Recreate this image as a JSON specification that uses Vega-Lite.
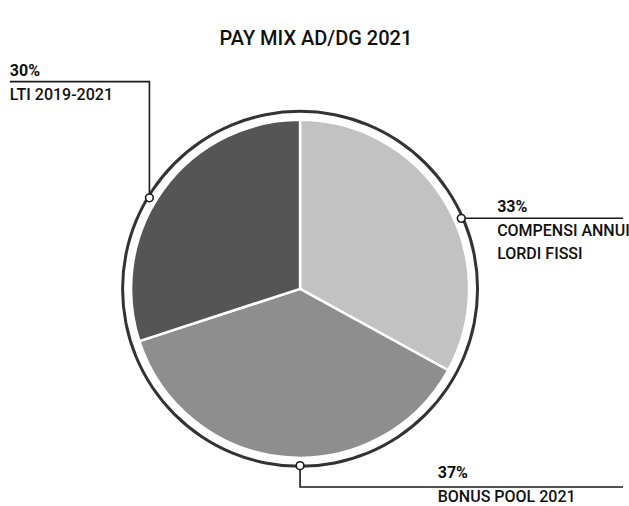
{
  "$schema": "https://vega.github.io/schema/vega-lite/v6.json",
  "autosize": {"type": "fit", "contains": "padding"},
  "width": 629,
  "height": 506,
  "padding": 0,
  "background": "white",
  "config": {"view": {"stroke": null}},
  "datasets": {
    "slices": [
      {"label": "COMPENSI ANNUI LORDI FISSI", "value": 33, "ord": 1},
      {"label": "BONUS POOL 2021", "value": 37, "ord": 2},
      {"label": "LTI 2019-2021", "value": 30, "ord": 3}
    ],
    "ring": [{"name": "ring"}],
    "dots": [
      {"x": -85.7, "y": 51.5},
      {"x": 91.7, "y": 39.9},
      {"x": 0, "y": -100}
    ],
    "leaders": [
      {"g": "LTI", "o": 1, "x": -85.7, "y": 51.5},
      {"g": "LTI", "o": 2, "x": -85.7, "y": 117.2},
      {"g": "LTI", "o": 3, "x": -165.1, "y": 117.2},
      {"g": "COMP", "o": 1, "x": 91.7, "y": 39.9},
      {"g": "COMP", "o": 2, "x": 183.7, "y": 39.9},
      {"g": "BONUS", "o": 1, "x": 0, "y": -100},
      {"g": "BONUS", "o": 2, "x": 0, "y": -112.1},
      {"g": "BONUS", "o": 3, "x": 183.7, "y": -112.1}
    ],
    "pcts": [
      {"t": "30%", "x": -165.1, "y": 120.6},
      {"t": "33%", "x": 112.1, "y": 43.4},
      {"t": "37%", "x": 78.3, "y": -107.0}
    ],
    "names": [
      {"t": "LTI 2019-2021", "x": -165.1, "y": 107.0},
      {"t": "COMPENSI ANNUI", "x": 112.1, "y": 29.9},
      {"t": "LORDI FISSI", "x": 112.1, "y": 16.9},
      {"t": "BONUS POOL 2021", "x": 78.3, "y": -120.6}
    ],
    "title": [{"t": "PAY MIX AD/DG 2021", "x": 9.0, "y": 138.0}]
  },
  "layer": [
    {
      "data": {"name": "ring"},
      "mark": {"type": "arc", "theta": 0, "theta2": 6.2832, "innerRadius": 176, "outerRadius": 179, "fill": "#333333"},
      "encoding": {
        "x": {"datum": 0, "type": "quantitative", "scale": {"domain": [-170.7, 183.7], "nice": false, "zero": false}, "axis": null},
        "y": {"datum": 0, "type": "quantitative", "scale": {"domain": [-121.7, 163.4], "nice": false, "zero": false}, "axis": null}
      }
    },
    {
      "data": {"name": "slices"},
      "mark": {"type": "arc", "outerRadius": 169, "stroke": "white", "strokeWidth": 2.5},
      "encoding": {
        "x": {"datum": 0, "type": "quantitative"},
        "y": {"datum": 0, "type": "quantitative"},
        "theta": {"field": "value", "type": "quantitative", "stack": true},
        "order": {"field": "ord", "type": "quantitative"},
        "color": {
          "field": "label",
          "type": "nominal",
          "scale": {"domain": ["COMPENSI ANNUI LORDI FISSI", "BONUS POOL 2021", "LTI 2019-2021"], "range": ["#c2c2c2", "#8e8e8e", "#555555"]},
          "legend": null
        }
      }
    },
    {
      "data": {"name": "leaders"},
      "mark": {"type": "line", "stroke": "#1a1a1a", "strokeWidth": 1.6},
      "encoding": {
        "x": {"field": "x", "type": "quantitative"},
        "y": {"field": "y", "type": "quantitative"},
        "detail": {"field": "g"},
        "order": {"field": "o", "type": "quantitative"}
      }
    },
    {
      "data": {"name": "dots"},
      "mark": {"type": "point", "shape": "circle", "filled": true, "fill": "white", "stroke": "#1a1a1a", "strokeWidth": 1.6, "size": 60, "opacity": 1},
      "encoding": {
        "x": {"field": "x", "type": "quantitative"},
        "y": {"field": "y", "type": "quantitative"}
      }
    },
    {
      "data": {"name": "pcts"},
      "mark": {"type": "text", "align": "left", "baseline": "alphabetic", "font": "Roboto", "fontSize": 16, "fontWeight": "bold", "fill": "#111111"},
      "encoding": {
        "x": {"field": "x", "type": "quantitative"},
        "y": {"field": "y", "type": "quantitative"},
        "text": {"field": "t"}
      }
    },
    {
      "data": {"name": "names"},
      "mark": {"type": "text", "align": "left", "baseline": "alphabetic", "font": "Roboto", "fontSize": 16, "fontWeight": 500, "fill": "#111111"},
      "encoding": {
        "x": {"field": "x", "type": "quantitative"},
        "y": {"field": "y", "type": "quantitative"},
        "text": {"field": "t"}
      }
    },
    {
      "data": {"name": "title"},
      "mark": {"type": "text", "align": "center", "baseline": "alphabetic", "font": "Roboto", "fontSize": 20, "fontWeight": 500, "fill": "#111111"},
      "encoding": {
        "x": {"field": "x", "type": "quantitative"},
        "y": {"field": "y", "type": "quantitative"},
        "text": {"field": "t"}
      }
    }
  ]
}
